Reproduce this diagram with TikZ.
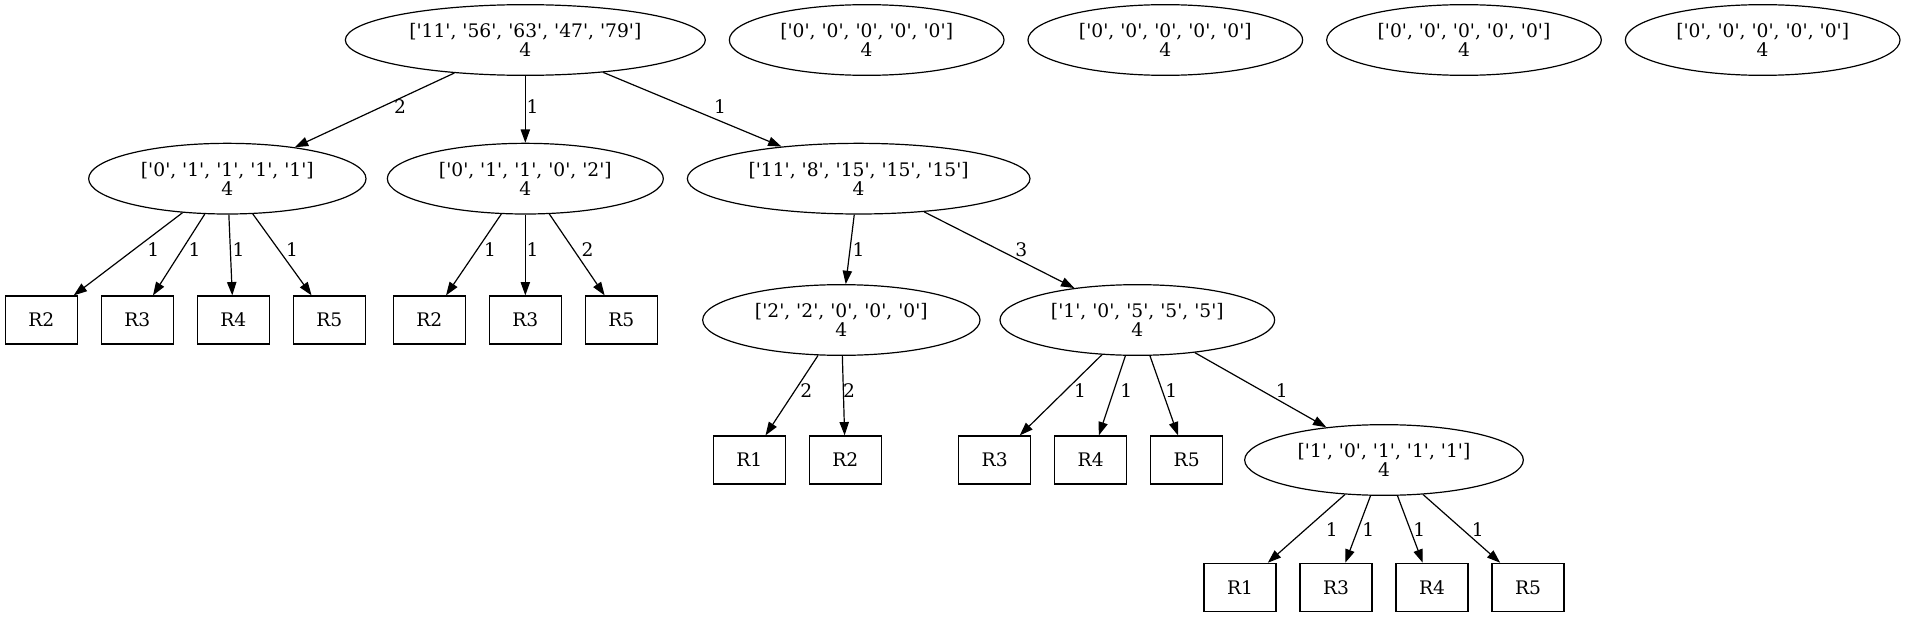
\documentclass[tikz,border=0pt]{standalone}
\usepackage{fontspec}
\setmainfont{DejaVu Serif}[Ligatures=TeXOff]
\usetikzlibrary{shapes.geometric,arrows.meta}
\begin{document}
\begin{tikzpicture}[x=1pt,y=-1pt,
  every node/.style={font=\fontsize{14}{14.5}\selectfont},
  ell/.style={ellipse, draw, line width=0.9pt, inner sep=0pt, minimum height=53pt, align=center},
  leaf/.style={rectangle, draw, line width=0.9pt, inner sep=0pt, minimum width=54pt, minimum height=36pt},
  edge/.style={draw, line width=0.9pt, -{Triangle[length=10pt,width=7pt]}},
  lbl/.style={inner sep=0pt}]
\useasboundingbox (0,0) rectangle (1430.25,462.75);
% rank 0
\node[ell, minimum width=270pt] (root) at (394,30) {['11', '56', '63', '47', '79']\\4};
\node[ell, minimum width=206pt] (z1) at (650,30) {['0', '0', '0', '0', '0']\\4};
\node[ell, minimum width=206pt] (z2) at (874,30) {['0', '0', '0', '0', '0']\\4};
\node[ell, minimum width=206pt] (z3) at (1098,30) {['0', '0', '0', '0', '0']\\4};
\node[ell, minimum width=206pt] (z4) at (1322,30) {['0', '0', '0', '0', '0']\\4};
% rank 1
\node[ell, minimum width=208pt] (A) at (170.5,134) {['0', '1', '1', '1', '1']\\4};
\node[ell, minimum width=207pt] (B) at (394,134) {['0', '1', '1', '0', '2']\\4};
\node[ell, minimum width=257pt] (C) at (644,134) {['11', '8', '15', '15', '15']\\4};
% rank 2
\node[leaf] (a2) at (31,240) {R2};
\node[leaf] (a3) at (103,240) {R3};
\node[leaf] (a4) at (175,240) {R4};
\node[leaf] (a5) at (247,240) {R5};
\node[leaf] (b2) at (322,240) {R2};
\node[leaf] (b3) at (394,240) {R3};
\node[leaf] (b5) at (466,240) {R5};
\node[ell, minimum width=208pt] (D) at (631,240) {['2', '2', '0', '0', '0']\\4};
\node[ell, minimum width=206pt] (E) at (853,240) {['1', '0', '5', '5', '5']\\4};
% rank 3
\node[leaf] (d1) at (562,345) {R1};
\node[leaf] (d2) at (634,345) {R2};
\node[leaf] (e3) at (746,345) {R3};
\node[leaf] (e4) at (818,345) {R4};
\node[leaf] (e5) at (890,345) {R5};
\node[ell, minimum width=209pt] (F) at (1038,345) {['1', '0', '1', '1', '1']\\4};
% rank 4
\node[leaf] (f1) at (930,440.5) {R1};
\node[leaf] (f3) at (1002,440.5) {R3};
\node[leaf] (f4) at (1074,440.5) {R4};
\node[leaf] (f5) at (1146,440.5) {R5};
% edges
\draw[edge] (root) -- (A);
\draw[edge] (root) -- (B);
\draw[edge] (root) -- (C);
\draw[edge] (A) -- (a2);
\draw[edge] (A) -- (a3);
\draw[edge] (A) -- (a4);
\draw[edge] (A) -- (a5);
\draw[edge] (B) -- (b2);
\draw[edge] (B) -- (b3);
\draw[edge] (B) -- (b5);
\draw[edge] (C) -- (D);
\draw[edge] (C) -- (E);
\draw[edge] (D) -- (d1);
\draw[edge] (D) -- (d2);
\draw[edge] (E) -- (e3);
\draw[edge] (E) -- (e4);
\draw[edge] (E) -- (e5);
\draw[edge] (E) -- (F);
\draw[edge] (F) -- (f1);
\draw[edge] (F) -- (f3);
\draw[edge] (F) -- (f4);
\draw[edge] (F) -- (f5);
% edge labels
\node[lbl] (l1) at (300,80) {2};
\node[lbl] (l2) at (399.5,80) {1};
\node[lbl] (l3) at (540,80) {1};
\node[lbl] (l4) at (115,187) {1};
\node[lbl] (l5) at (146,187) {1};
\node[lbl] (l6) at (179,187) {1};
\node[lbl] (l7) at (219,187) {1};
\node[lbl] (l8) at (367.6,187) {1};
\node[lbl] (l9) at (399.5,187) {1};
\node[lbl] (l10) at (440.6,187) {2};
\node[lbl] (l11) at (644,187) {1};
\node[lbl] (l12) at (766,187) {3};
\node[lbl] (l13) at (604.8,293) {2};
\node[lbl] (l14) at (636.7,293) {2};
\node[lbl] (l15) at (810,293) {1};
\node[lbl] (l16) at (844.7,293) {1};
\node[lbl] (l17) at (878.4,293) {1};
\node[lbl] (l18) at (961.4,293) {1};
\node[lbl] (l19) at (998.8,397) {1};
\node[lbl] (l20) at (1026.2,397) {1};
\node[lbl] (l21) at (1064.5,397) {1};
\node[lbl] (l22) at (1108.3,397) {1};
\end{tikzpicture}
\end{document}
